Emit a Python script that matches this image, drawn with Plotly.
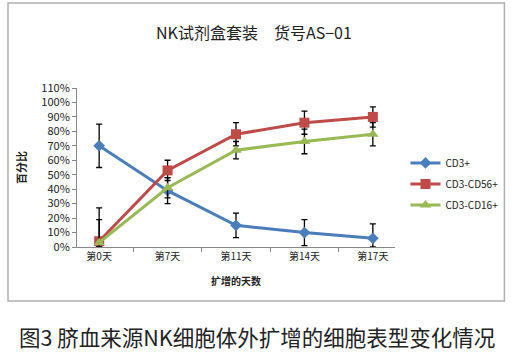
import plotly.graph_objects as go

categories = ["第0天", "第7天", "第11天", "第14天", "第17天"]
cd3 = [70, 39, 15, 10, 6]
cd3_err = [15, 9, 8.5, 9, 10]
cd56 = [4, 53, 78, 86, 90]
cd56_err = [23, 7, 8, 8, 7]
cd16 = [3, 41, 67, 73, 78]
cd16_err = [16, 7, 6, 8.5, 8]
y_ticks = list(range(0, 111, 10))
y_tick_labels = [f"{v}%" for v in y_ticks]

FONT = "Noto Sans CJK SC, Arial, sans-serif"

fig = go.Figure()

def add(name, vals, errs, color, symbol, size, group):
    fig.add_trace(go.Scatter(
        x=categories, y=vals, name=name, mode="lines+markers",
        line=dict(color=color, width=3),
        marker=dict(color=color, symbol=symbol, size=size),
        error_y=dict(type="data", array=errs,
                     arrayminus=[min(e, v) for e, v in zip(errs, vals)],
                     color="black", thickness=1.3, width=3),
        legendgroup=group,
    ))

add("CD3+", cd3, cd3_err, "#4A7EBB", "diamond", 9, "a")
add("CD3-CD56+", cd56, cd56_err, "#BE4B48", "square", 10, "b")
add("CD3-CD16+", cd16, cd16_err, "#98B954", "triangle-up", 10, "c")

fig.update_layout(
    width=516, height=361,
    margin=dict(l=77, r=116, t=88, b=114),
    paper_bgcolor="white", plot_bgcolor="white",
    font=dict(family=FONT, size=10, color="#222"),
    showlegend=True,
    legend=dict(x=1.033, y=0.62, xanchor="left", yanchor="top",
                font=dict(size=10, color="#222"), tracegroupgap=2,
                itemwidth=30, bgcolor="rgba(0,0,0,0)"),
    xaxis=dict(type="category", showline=True, linecolor="#888", linewidth=1,
               ticks="outside", tickson="boundaries", ticklen=4, tickcolor="#888",
               showgrid=False, tickfont=dict(size=10, color="#222"),
               title=dict(text="<b>扩增的天数</b>", font=dict(size=10), standoff=15)),
    yaxis=dict(range=[0, 110], tickvals=y_ticks, ticktext=y_tick_labels,
               showline=True, linecolor="#888", linewidth=1, ticks="outside",
               ticklen=4, tickcolor="#888", showgrid=False, zeroline=False,
               tickfont=dict(size=11, color="#222"),
               title=dict(text="<b>百分比</b>", font=dict(size=11), standoff=12)),
    shapes=[dict(type="rect", xref="paper", yref="paper",
                 x0=-0.217, x1=1.344, y0=-0.34, y1=1.535,
                 line=dict(color="#B0B0B0", width=1.5), layer="below")],
    annotations=[
        dict(text="NK试剂盒套装　货号AS−01", xref="paper", yref="paper",
             x=(257 - 77) / 323, y=(247 - 32) / 159, xanchor="center", yanchor="middle",
             showarrow=False, font=dict(size=16, color="#222", family=FONT)),
        dict(text="图3 脐血来源NK细胞体外扩增的细胞表型变化情况", xref="paper", yref="paper",
             x=(260 - 77) / 323, y=(247 - 336) / 159, xanchor="center", yanchor="middle",
             showarrow=False, font=dict(size=21.5, color="#222", family=FONT)),
    ],
)

fig.write_html("out.html", config={"displayModeBar": False},
               post_script="document.body.style.margin='0';")
